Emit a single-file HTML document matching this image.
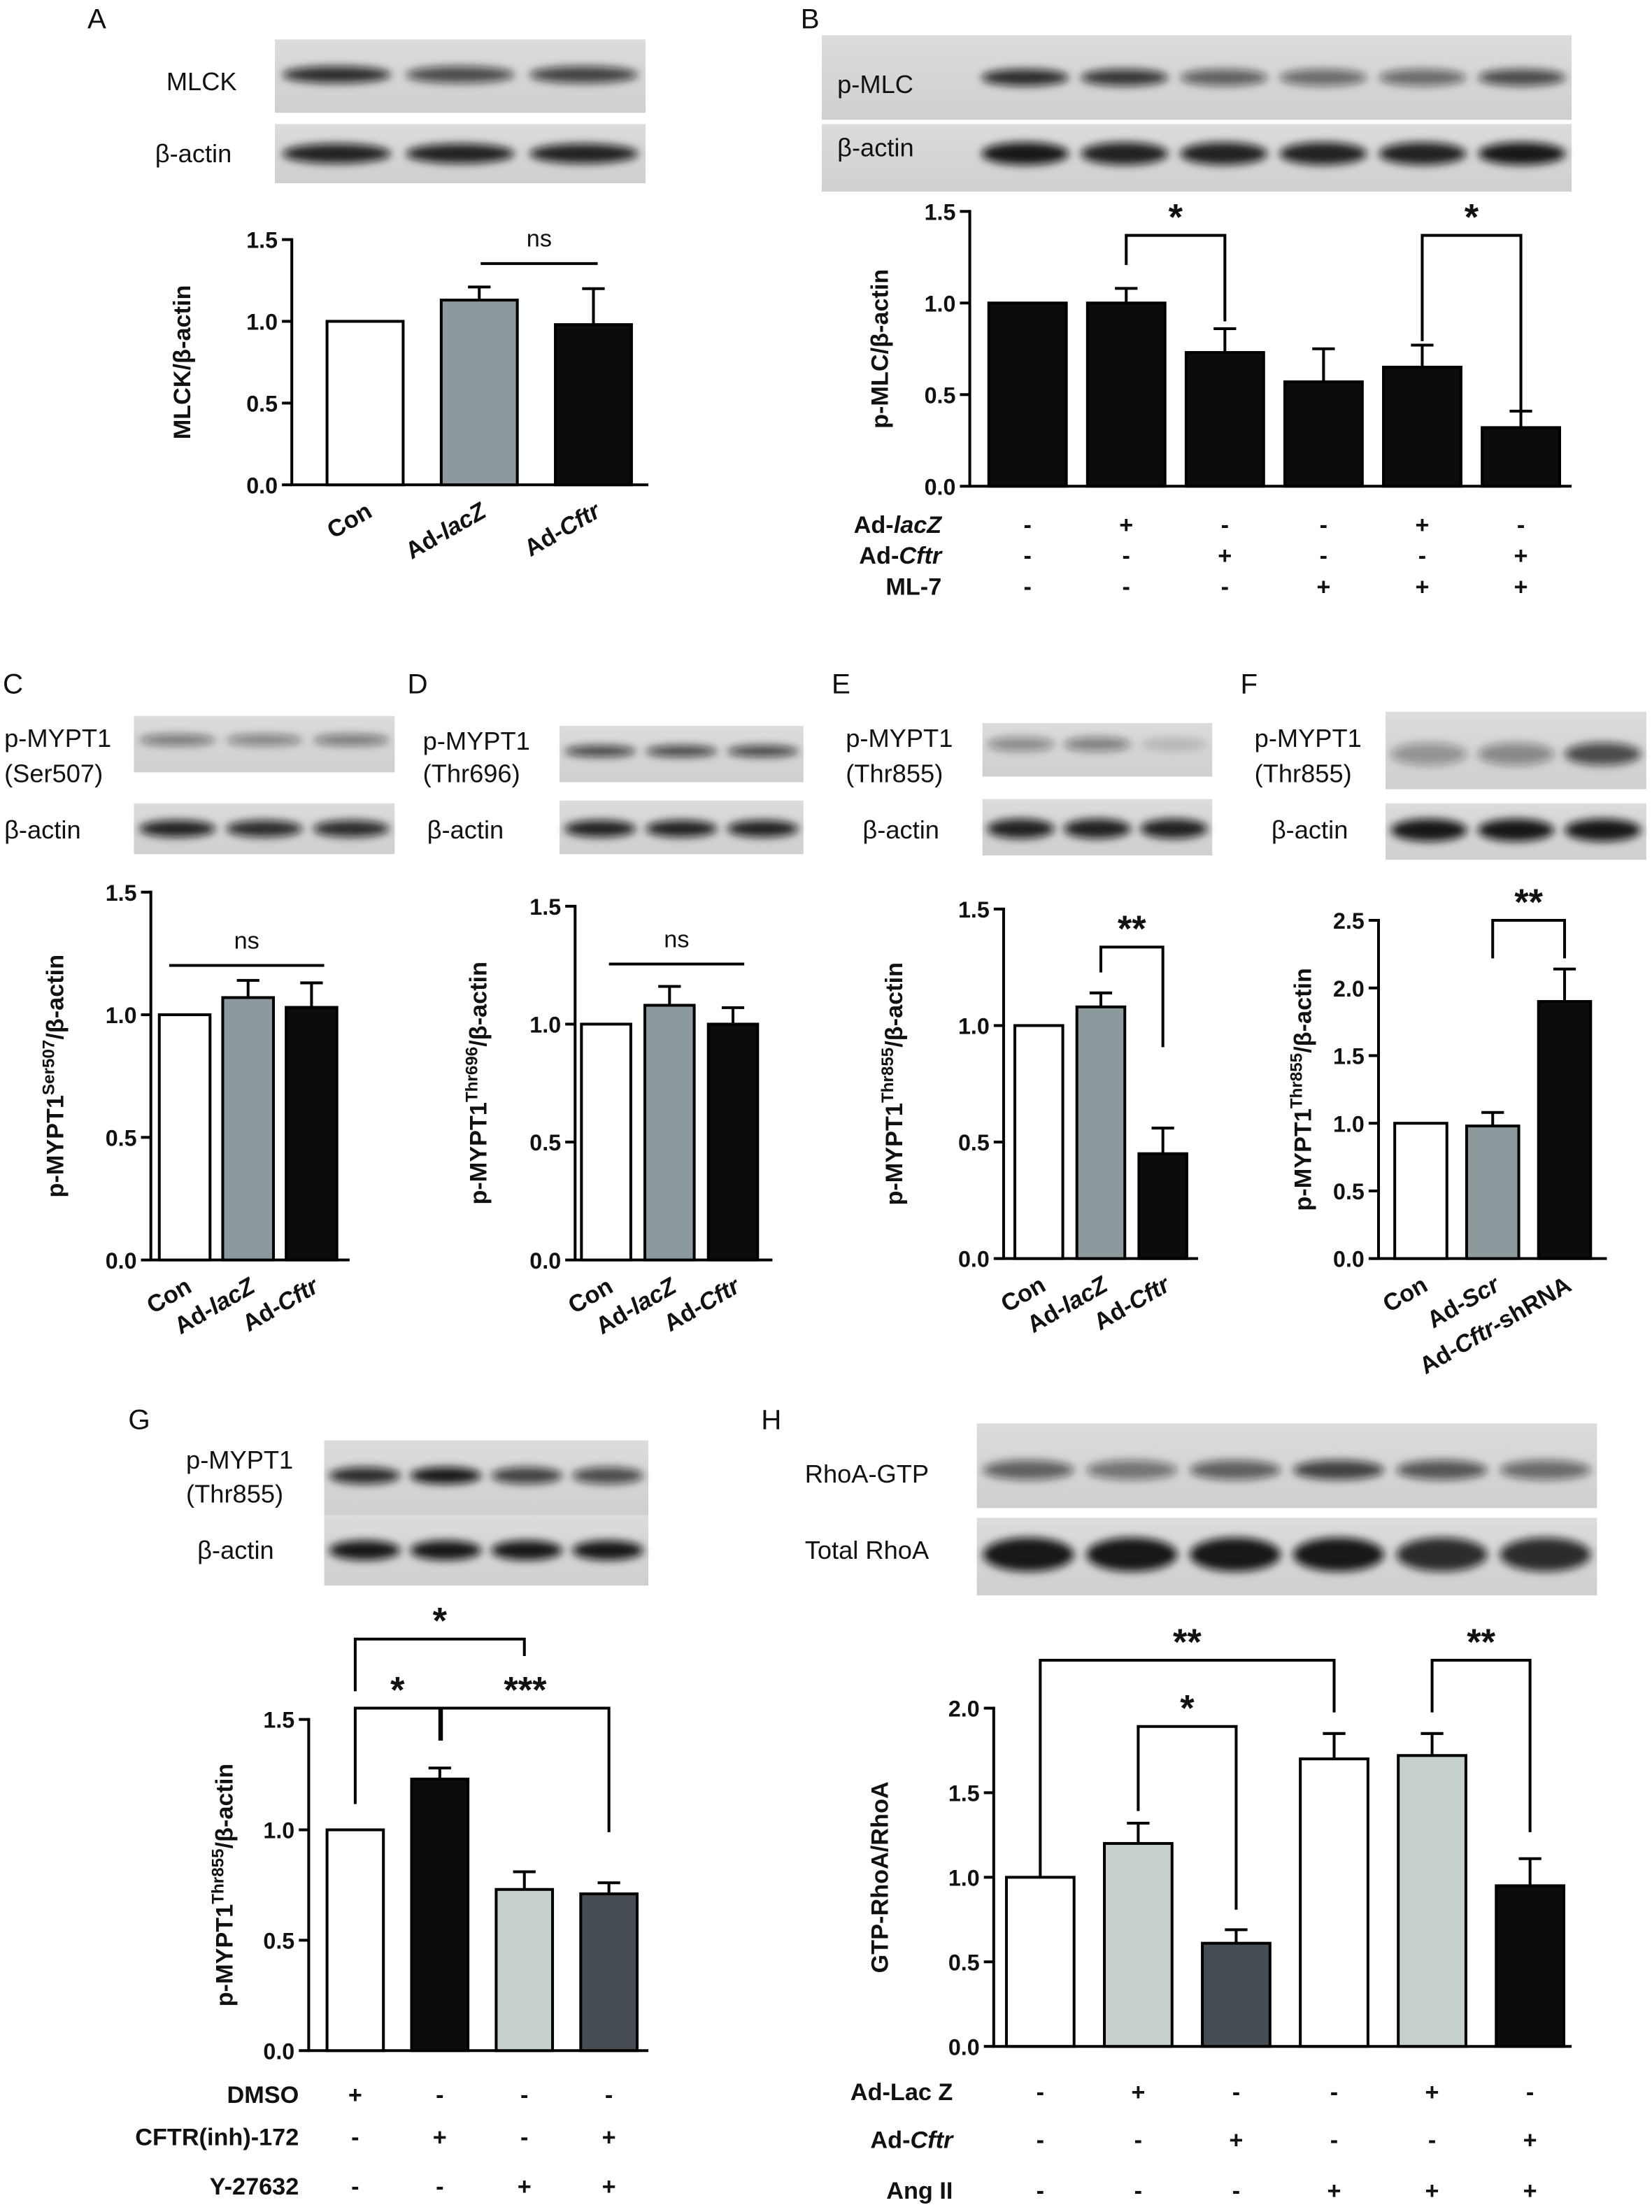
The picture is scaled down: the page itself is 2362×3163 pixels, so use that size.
<!DOCTYPE html>
<html><head><meta charset="utf-8"><style>
html,body{margin:0;padding:0;background:#fff}
svg{display:block}
text{font-family:"Liberation Sans",Arial,sans-serif;fill:#111}
.t{font-size:16px;font-weight:bold}
.ti{font-size:17px;font-weight:bold}
.bl{font-size:18px}
.pl{font-size:20px}
</style></head><body>
<svg id="fig" width="2362" height="3163" viewBox="0 0 1172 1569.5" xmlns="http://www.w3.org/2000/svg">
<defs>
<filter id="blur" x="-20%" y="-100%" width="140%" height="300%"><feGaussianBlur stdDeviation="3"/></filter>
<linearGradient id="bg" x1="0" y1="0" x2="0" y2="1"><stop offset="0" stop-color="#dcdcdc"/><stop offset="1" stop-color="#cfcfcf"/></linearGradient>
</defs>
</svg>
<script>
// ---------- data ----------
const catsA=["Con","Ad-lacZ","Ad-Cftr"];
const valsA=[1.0,1.13,0.98];
const errA=[0,0.08,0.22];
const valsB=[1.0,1.0,0.73,0.57,0.65,0.32];
const errB=[0,0.08,0.13,0.18,0.12,0.09];
const catsC=["Con","Ad-lacZ","Ad-Cftr"];
const valsC=[1.0,1.07,1.03];
const errC=[0,0.07,0.1];
const valsD=[1.0,1.08,1.0];
const errD=[0,0.08,0.07];
const valsE=[1.0,1.08,0.45];
const errE=[0,0.06,0.11];
const catsF=["Con","Ad-Scr","Ad-Cftr-shRNA"];
const valsF=[1.0,0.98,1.9];
const errF=[0,0.1,0.24];
const valsG=[1.0,1.23,0.73,0.71];
const errG=[0,0.05,0.08,0.05];
const valsH=[1.0,1.2,0.61,1.7,1.72,0.95];
const errH=[0,0.12,0.08,0.15,0.13,0.16];
const ticks15=[0,0.5,1.0,1.5];
const ticksF=[0,0.5,1.0,1.5,2.0,2.5];
const ticksH=[0,0.5,1.0,1.5,2.0];

const NS="http://www.w3.org/2000/svg";
const svg=document.getElementById('fig');
function mk(tag,attrs,txt){const e=document.createElementNS(NS,tag);for(const k in attrs)e.setAttribute(k,attrs[k]);if(txt!==undefined)e.textContent=txt;svg.appendChild(e);return e;}

const WHITE="#ffffff",GRAY="#8c9a9d",BLACK="#0c0c0c",LG="#c6d0cf",DG="#464d52";

function chart(c){
  const ys=v=>c.y0-(v/c.max)*(c.y0-c.yTop);
  const ax=mk('line',{x1:c.ax,y1:c.yTop-1,x2:c.ax,y2:c.y0,stroke:'#000','stroke-width':2});
  
  const xa=mk('line',{x1:c.ax-1,y1:c.y0,x2:c.axEnd,y2:c.y0,stroke:'#000','stroke-width':2});
  
  c.ticks.forEach(t=>{
    const y=ys(t);
    const tk=mk('line',{x1:c.ax-7,y1:y,x2:c.ax,y2:y,stroke:'#000','stroke-width':2});
    
    const tl=mk('text',{x:c.ax-10,y:y+6,'text-anchor':'end',class:'t'},t.toFixed(1));
    
  });
  c.vals.forEach((v,i)=>{
    const cx=c.x0+i*c.sp;
    const top=ys(v);
    if(c.err[i]>0){
      const ey=ys(v+c.err[i]);
      const el=mk('line',{x1:cx,y1:ey,x2:cx,y2:top,stroke:'#000','stroke-width':2});
      
      const ec=mk('line',{x1:cx-8,y1:ey,x2:cx+8,y2:ey,stroke:'#000','stroke-width':2});
      
    }
    const b=mk('rect',{x:cx-c.w/2,y:top,width:c.w,height:c.y0-top,fill:c.cols[i],stroke:'#000','stroke-width':2});
    
  });
  const tx=mk('text',{x:c.titleX,y:(c.yTop+c.y0)/2,'text-anchor':'middle',class:'ti',transform:'rotate(-90 '+c.titleX+' '+((c.yTop+c.y0)/2)+')'});
  tx.innerHTML=c.title;
  
  if(c.cats){
    c.cats.forEach((s,i)=>{
      const cx=c.x0+i*c.sp+6, y=c.y0+22;
      const t=mk('text',{x:cx,y:y,'text-anchor':'end',class:'ti',transform:'rotate(-30 '+cx+' '+y+')'});
      t.innerHTML=s.replace(/^Ad-(.*)$/,(m,p)=>'Ad-<tspan font-style="italic">'+p.replace('-shRNA','</tspan>-shRNA<tspan>')+'</tspan>');
      
    });
  }
  if(c.brackets){
    c.brackets.forEach(b=>{
      const x1=c.x0+b[0]*c.sp,x2=c.x0+b[1]*c.sp;
      const p=mk('path',{d:'M'+x1+' '+b[3]+' L'+x1+' '+b[2]+' L'+x2+' '+b[2]+' L'+x2+' '+b[4],fill:'none',stroke:'#000','stroke-width':2});
      
      const s=mk('text',{x:(x1+x2)/2,y:b[2]-4,'text-anchor':'middle',style:'font-size:26px;font-weight:bold'},b[5]);
      
    });
  }
  if(c.line){
    const l=mk('line',{x1:c.line[0],y1:c.line[2],x2:c.line[1],y2:c.line[2],stroke:'#000','stroke-width':2});
    
    const s=mk('text',{x:(c.line[0]+c.line[1])/2,y:c.line[2]-12,'text-anchor':'middle',style:'font-size:17px'},'ns');
    
  }
  return ys;
}

function blot(id,x,y,w,h,n,bandY,dark,bh,lx){
  const r=mk('rect',{x:x,y:y,width:w,height:h,fill:'url(#bg)'});
  
  const sx=lx||x, lw=(x+w-sx)/n;
  for(let i=0;i<n;i++){
    const e=mk('ellipse',{cx:sx+lw*(i+0.5),cy:bandY,rx:lw*0.44,ry:bh||5,fill:'#111','fill-opacity':dark[i],filter:'url(#blur)'});
    
  }
}
function label(name,x,y,txt,cls,anchor){
  const t=mk('text',{x:x,y:y,class:cls,'text-anchor':anchor||'start'},txt);
  
  return t;
}
function signs(id,labels,rows,ys,x0,sp,lx){
  labels.forEach((l,r)=>{
    const t=mk('text',{x:lx,y:ys[r],'text-anchor':'end',class:'ti'});
    t.innerHTML=l;
    
    rows[r].forEach((s,i)=>{
      const tt=mk('text',{x:x0+i*sp,y:ys[r],'text-anchor':'middle',class:'ti'},s);
      
    });
  });
}

// Panel letters
[["A",62,20],["B",568,20],["C",2,492],["D",289,492],["E",590,492],["F",880,492],["G",91,1014],["H",540,1014]].forEach(p=>label('panel-'+p[0].toLowerCase()+'-letter',p[1],p[2],p[0],'pl'));

// Panel A
blot('blot-a-mlck',195,28,263,52,3,53,[0.85,0.7,0.75],6);
blot('blot-a-actin',195,88,263,42,3,109,[0.9,0.9,0.9],7);
label('blot-a-mlck-label',118,64,'MLCK','bl');label('blot-a-actin-label',110,115,'β-actin','bl');
chart({id:'a',ax:207,axEnd:460,y0:344,yTop:170,max:1.5,ticks:ticks15,x0:259,sp:81,w:54,vals:valsA,err:errA,cols:[WHITE,GRAY,BLACK],title:'MLCK/β-actin',titleX:135,cats:catsA,line:[341,424,187]});

// Panel B
blot('blot-b-pmlc',583,25,532,60,6,55,[0.85,0.8,0.6,0.55,0.55,0.7],6,692);
blot('blot-b-actin',583,88,532,48,6,109,[0.95,0.9,0.9,0.9,0.9,0.95],8,692);
label('blot-b-pmlc-label',594,66,'p-MLC','bl');label('blot-b-actin-label',594,111,'β-actin','bl');
chart({id:'b',ax:688,axEnd:1115,y0:345,yTop:150,max:1.5,ticks:ticks15,x0:729,sp:70,w:55,vals:valsB,err:errB,cols:[BLACK,BLACK,BLACK,BLACK,BLACK,BLACK],title:'p-MLC/β-actin',titleX:630,
 brackets:[[1,2,167,188,228,'*'],[4,5,167,242,293,'*']]});
signs('b',['Ad-<tspan font-style="italic">lacZ</tspan>','Ad-<tspan font-style="italic">Cftr</tspan>','ML-7'],
 [['-','+','-','-','+','-'],['-','-','+','-','-','+'],['-','-','-','+','+','+']],[378,400,422],729,70,668);

// Panel C
blot('blot-c-pmypt1',95,508,185,40,3,525,[0.5,0.45,0.5],4);
blot('blot-c-actin',95,570,185,36,3,588,[0.9,0.85,0.85],6);
label('blot-c-label1',3,530,'p-MYPT1','bl');label('blot-c-label2',3,555,'(Ser507)','bl');label('blot-c-actin-label',3,595,'β-actin','bl');
chart({id:'c',ax:107,axEnd:248,y0:894,yTop:633,max:1.5,ticks:ticks15,x0:131,sp:45,w:36,vals:valsC,err:errC,cols:[WHITE,GRAY,BLACK],title:'p-MYPT1<tspan baseline-shift="super" font-size="12">Ser507</tspan>/β-actin',titleX:45,cats:catsC,line:[120,230,685]});

// Panel D
blot('blot-d-pmypt1',397,515,173,40,3,533,[0.75,0.75,0.75],4);
blot('blot-d-actin',397,568,173,38,3,588,[0.9,0.9,0.9],6);
label('blot-d-label1',300,532,'p-MYPT1','bl');label('blot-d-label2',300,555,'(Thr696)','bl');label('blot-d-actin-label',303,595,'β-actin','bl');
chart({id:'d',ax:408,axEnd:548,y0:894,yTop:643,max:1.5,ticks:ticks15,x0:430,sp:45,w:35,vals:valsD,err:errD,cols:[WHITE,GRAY,BLACK],title:'p-MYPT1<tspan baseline-shift="super" font-size="12">Thr696</tspan>/β-actin',titleX:345,cats:catsC,line:[432,528,684]});

// Panel E
blot('blot-e-pmypt1',697,513,163,38,3,528,[0.4,0.45,0.15],5);
blot('blot-e-actin',697,567,163,40,3,588,[0.9,0.9,0.9],7);
label('blot-e-label1',600,530,'p-MYPT1','bl');label('blot-e-label2',600,555,'(Thr855)','bl');label('blot-e-actin-label',612,595,'β-actin','bl');
chart({id:'e',ax:712,axEnd:850,y0:893,yTop:645,max:1.5,ticks:ticks15,x0:737,sp:44,w:34,vals:valsE,err:errE,cols:[WHITE,GRAY,BLACK],title:'p-MYPT1<tspan baseline-shift="super" font-size="12">Thr855</tspan>/β-actin',titleX:640,cats:catsC,
 brackets:[[1,2,672,690,743,'**']]});

// Panel F
blot('blot-f-pmypt1',983,505,185,55,3,535,[0.35,0.4,0.7],8);
blot('blot-f-actin',983,570,185,40,3,589,[0.95,0.95,0.95],8);
label('blot-f-label1',890,530,'p-MYPT1','bl');label('blot-f-label2',890,555,'(Thr855)','bl');label('blot-f-actin-label',902,595,'β-actin','bl');
chart({id:'f',ax:978,axEnd:1140,y0:893,yTop:653,max:2.5,ticks:ticksF,x0:1008,sp:51,w:37,vals:valsF,err:errF,cols:[WHITE,GRAY,BLACK],title:'p-MYPT1<tspan baseline-shift="super" font-size="12">Thr855</tspan>/β-actin',titleX:930,cats:catsF,
 brackets:[[1,2,653,680,680,'**']]});

// Panel G
blot('blot-g-pmypt1',230,1022,230,55,4,1047,[0.85,0.95,0.75,0.7],6);
blot('blot-g-actin',230,1075,230,50,4,1100,[0.95,0.95,0.95,0.95],7);
label('blot-g-label1',132,1042,'p-MYPT1','bl');label('blot-g-label2',132,1066,'(Thr855)','bl');label('blot-g-actin-label',140,1106,'β-actin','bl');
chart({id:'g',ax:219,axEnd:460,y0:1455,yTop:1220,max:1.5,ticks:ticks15,x0:252,sp:60,w:40,vals:valsG,err:errG,cols:[WHITE,BLACK,LG,DG],title:'p-MYPT1<tspan baseline-shift="super" font-size="12">Thr855</tspan>/β-actin',titleX:165,
 brackets:[[0,2,1163,1200,1175,'*'],[0,1,1212,1280,1235,'*'],[1.02,3,1212,1235,1300,'***']]});
signs('g',['DMSO','CFTR(inh)-172','Y-27632'],[['+','-','-','-'],['-','+','-','+'],['-','-','+','+']],[1492,1522,1557],252,60,212);

// Panel H
blot('blot-h-rhoagtp',693,1010,440,60,6,1043,[0.6,0.5,0.6,0.75,0.65,0.55],7);
blot('blot-h-totalrhoa',693,1077,440,55,6,1103,[0.95,0.95,0.95,0.95,0.85,0.85],12);
label('blot-h-label1',571,1052,'RhoA-GTP','bl');label('blot-h-label2',571,1106,'Total RhoA','bl');
chart({id:'h',ax:705,axEnd:1115,y0:1452,yTop:1212,max:2.0,ticks:ticksH,x0:738,sp:69.5,w:48,vals:valsH,err:errH,cols:[WHITE,LG,DG,WHITE,LG,BLACK],title:'GTP-RhoA/RhoA',titleX:630,
 brackets:[[0,3,1178,1332,1215,'**'],[1,2,1225,1285,1355,'*'],[4,5,1178,1215,1300,'**']]});
signs('h',['Ad-Lac Z','Ad-<tspan font-style="italic">Cftr</tspan>','Ang II'],
 [['-','+','-','-','+','-'],['-','-','+','-','-','+'],['-','-','-','+','+','+']],[1490,1524,1560],738,69.5,676);
</script>
</body></html>
